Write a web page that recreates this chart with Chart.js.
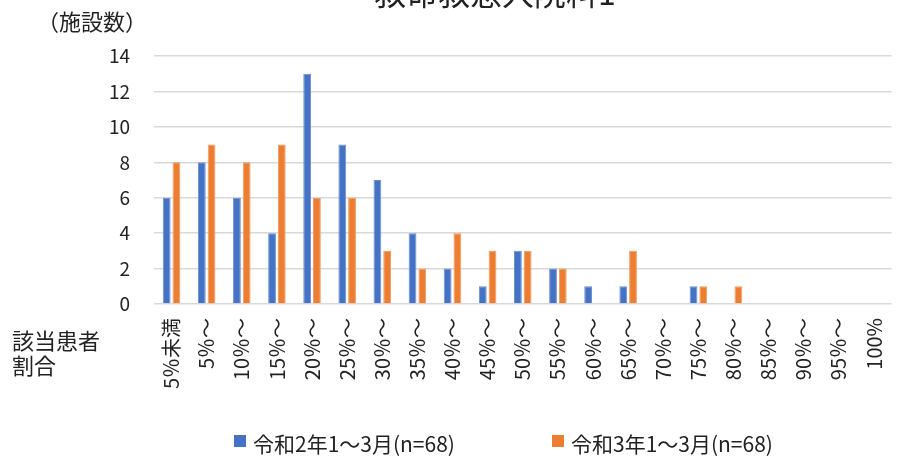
<!DOCTYPE html>
<html lang="ja">
<head>
  <meta charset="UTF-8">
  <title>救命救急入院料1</title>
  <script src="https://cdn.jsdelivr.net/npm/chart.js"></script>
  <style>
    html, body {
      margin: 0;
      padding: 0;
      background: #fff;
      overflow: hidden;
    }
    .wrap {
      width: 912px;
      height: 456px;
    }
  </style>
</head>
<body>

<div class="wrap">
  <canvas id="chart"></canvas>
</div>

<script>
  const titleText = '救命救急入院料1';
  const yTitle = '（施設数）';
  const xTitle = ['該当患者', '割合'];

  const categories = [
    '5％未満', '5％～', '10％～', '15％～', '20％～', '25％～', '30％～',
    '35％～', '40％～', '45％～', '50％～', '55％～', '60％～', '65％～',
    '70％～', '75％～', '80％～', '85％～', '90％～', '95％～', '100%'
  ];
  const seriesNames = ['令和2年1～3月(n=68)', '令和3年1～3月(n=68)'];
  const r2Values = [6, 8, 6, 4, 13, 9, 7, 4, 2, 1, 3, 2, 1, 1, 0, 1, 0, 0, 0, 0, 0];
  const r3Values = [8, 9, 8, 9, 6, 6, 3, 2, 4, 3, 3, 2, 0, 3, 0, 1, 1, 0, 0, 0, 0];

  const FONT = '"Noto Sans CJK JP", "Noto Sans", sans-serif';

  // タイトル（上端で切れている）、軸ラベル、凡例
  const extraText = {
    id: 'extraText',
    afterDraw(chart) {
      const c = chart.ctx;
      c.save();
      c.fillStyle = '#222';
      c.textAlign = 'center';
      c.textBaseline = 'alphabetic';
      c.font = '32px ' + FONT;
      c.fillText(titleText, 495, 5);

      c.textAlign = 'left';
      c.textBaseline = 'middle';
      c.font = '22px ' + FONT;
      c.fillText(yTitle, 37, 22);

      c.font = '22px ' + FONT;
      c.fillText(xTitle[0], 12, 341);
      c.fillText(xTitle[1], 12, 366);

      // 凡例
      const legendX = [234, 552];
      c.font = '21px ' + FONT;
      chart.data.datasets.forEach((ds, i) => {
        c.fillStyle = ds.backgroundColor;
        c.fillRect(legendX[i], 435, 12, 12);
        c.fillStyle = '#222';
        c.fillText(ds.label, legendX[i] + 19, 444);
      });
      c.restore();
    }
  };

  new Chart(document.getElementById('chart'), {
    type: 'bar',
    data: {
      labels: categories,
      datasets: [{
        label: seriesNames[0],
        data: r2Values,
        backgroundColor: '#4472C4',
        borderColor: '#6b8fd3',
        borderWidth: 1,
        barPercentage: 0.8,
        categoryPercentage: 0.555
      }, {
        label: seriesNames[1],
        data: r3Values,
        backgroundColor: '#ED7D31',
        borderColor: '#f29a5e',
        borderWidth: 1,
        barPercentage: 0.8,
        categoryPercentage: 0.555
      }]
    },
    options: {
      responsive: true,
      maintainAspectRatio: false,
      animation: false,
      layout: {
        padding: { top: 56, left: 0, right: 0, bottom: 0 }
      },
      scales: {
        x: {
          grid: { display: false, drawTicks: false },
          border: { display: false },
          ticks: {
            autoSkip: false,
            minRotation: 90,
            maxRotation: 90,
            padding: 14,
            color: '#222',
            font: { family: FONT, size: 20 }
          },
          afterFit(scale) { scale.height = 152; }
        },
        y: {
          min: 0,
          max: 14,
          grid: { color: '#d9d9d9', lineWidth: 1.5, drawTicks: false },
          border: { display: false },
          ticks: {
            stepSize: 2,
            padding: 24,
            color: '#222',
            font: { family: FONT, size: 19 }
          },
          afterFit(scale) { scale.width = 154; }
        }
      },
      plugins: {
        legend: { display: false },
        tooltip: { enabled: false }
      }
    },
    plugins: [extraText]
  });
</script>

</body>
</html>
